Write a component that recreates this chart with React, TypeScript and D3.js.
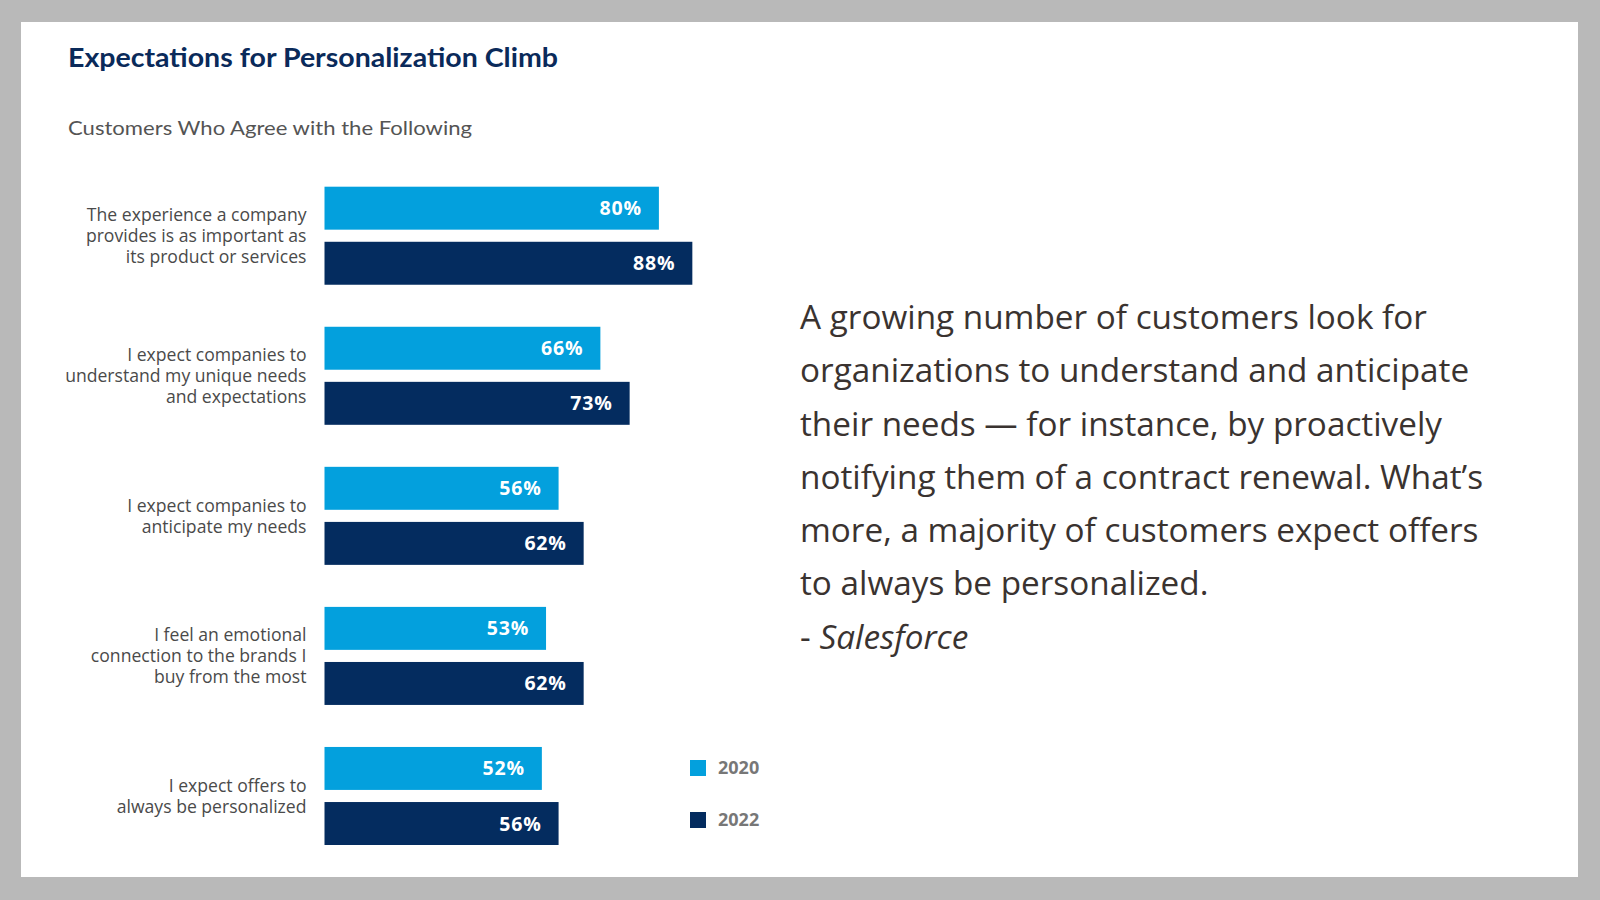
import React from "react";
import * as d3 from "d3";

const categories = [
  "The experience a company provides is as important as its product or services",
  "I expect companies to understand my unique needs and expectations",
  "I expect companies to anticipate my needs",
  "I feel an emotional connection to the brands I buy from the most",
  "I expect offers to always be personalized",
];
const categoryLines = [
  ["The experience a company", "provides is as important as", "its product or services"],
  ["I expect companies to", "understand my unique needs", "and expectations"],
  ["I expect companies to", "anticipate my needs"],
  ["I feel an emotional", "connection to the brands I", "buy from the most"],
  ["I expect offers to", "always be personalized"],
];
const years = ["2020", "2022"];
const values2020 = [80, 66, 56, 53, 52];
const values2022 = [88, 73, 62, 62, 56];
const seriesValues = [values2020, values2022];
const colors = ["#03a0dd", "#042c5f"];

const title = "Expectations for Personalization Climb";
const subtitle = "Customers Who Agree with the Following";
const quoteLines = [
  "A growing number of customers look for",
  "organizations to understand and anticipate",
  "their needs \u2014 for instance, by proactively",
  "notifying them of a contract renewal. What\u2019s",
  "more, a majority of customers expect offers",
  "to always be personalized.",
];
const quoteSource = "Salesforce";

const W = 1600;
const H = 900;
const titleFont = "Lato, 'Open Sans', sans-serif";
const labelFont = "'Open Sans', sans-serif";
const quoteFont = "'Open Sans', sans-serif";

export default function App() {
  const x = d3.scaleLinear().domain([0, 100]).range([324.5, 742.5]);
  const y = d3.scaleBand<string>().domain(categories).range([186.7, 845]).paddingInner(0.3).paddingOuter(0);
  const ySub = d3.scaleBand<string>().domain(years).range([0, y.bandwidth()]).paddingInner(0.22);
  const lineH = 21;
  const quoteY = d3.scaleLinear().domain([0, 1]).range([317, 370.3]);

  return (
    <svg
      width={W}
      height={H}
      viewBox={`0 0 ${W} ${H}`}
      style={{ position: "absolute", left: 0, top: 0, display: "block" }}
    >
      <rect x={0} y={0} width={W} height={H} fill="#b9b9b9" />
      <rect x={21} y={22} width={1557} height={855} fill="#ffffff" />

      <text x={68} y={67} fontFamily={titleFont} fontWeight={700} fontSize={26} fill="#0a2a5a" textLength={490} lengthAdjust="spacingAndGlyphs">
        {title}
      </text>
      <text x={68} y={135} fontFamily={titleFont} fontSize={20} fill="#545454" textLength={404} lengthAdjust="spacingAndGlyphs">
        {subtitle}
      </text>

      {categories.map((c, i) => {
        const cy = (y(c) as number) + y.bandwidth() / 2;
        const lines = categoryLines[i];
        const y0 = cy - ((lines.length - 1) * lineH) / 2;
        return (
          <g key={c}>
            {lines.map((l, j) => (
              <text
                key={j}
                x={306.5}
                y={y0 + j * lineH}
                dy="0.35em"
                textAnchor="end"
                fontFamily={labelFont}
                fontSize={17.6}
                fill="#4a4a4a"
              >
                {l}
              </text>
            ))}
            {years.map((yr, k) => {
              const v = seriesValues[k][i];
              const by = (y(c) as number) + (ySub(yr) as number);
              return (
                <g key={yr}>
                  <rect x={x(0)} y={by} width={x(v) - x(0)} height={ySub.bandwidth()} fill={colors[k]} />
                  <text
                    x={x(v) - 17}
                    y={by + ySub.bandwidth() / 2}
                    dy="0.36em"
                    textAnchor="end"
                    fontFamily={labelFont}
                    fontWeight={700}
                    fontSize={19.5}
                    letterSpacing={0.8}
                    fill="#ffffff"
                  >
                    {v}%
                  </text>
                </g>
              );
            })}
          </g>
        );
      })}

      {years.map((yr, k) => (
        <g key={yr} transform={`translate(690, ${760 + k * 52})`}>
          <rect x={0} y={0} width={16} height={16} fill={colors[k]} />
          <text x={28} y={8} dy="0.36em" fontFamily={labelFont} fontWeight={700} fontSize={18} fill="#777777">
            {yr}
          </text>
        </g>
      ))}

      {quoteLines.map((l, i) => (
        <text key={i} x={800} y={quoteY(i)} dy="0.36em" fontFamily={quoteFont} fontSize={33.3} fill="#3a3330">
          {l}
        </text>
      ))}
      <text x={800} y={quoteY(quoteLines.length)} dy="0.36em" fontFamily={quoteFont} fontSize={33.3} fill="#3a3330">
        {"- "}
        <tspan fontStyle="italic">{quoteSource}</tspan>
      </text>
    </svg>
  );
}
